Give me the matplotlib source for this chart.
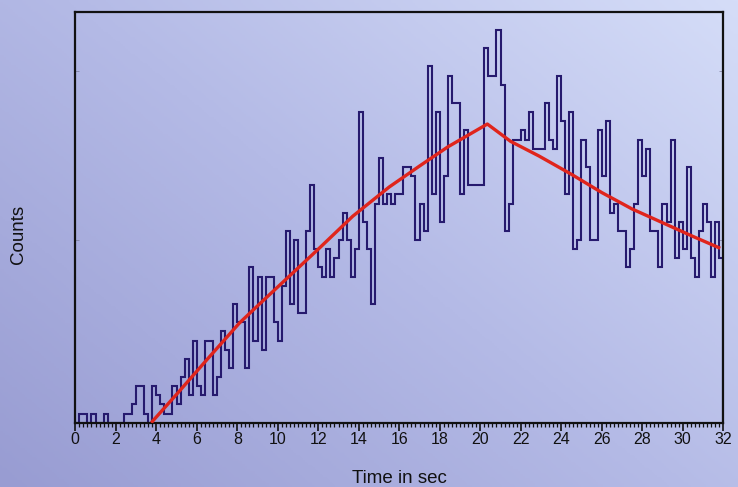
import numpy as np
import matplotlib
matplotlib.use("Agg")
import matplotlib.pyplot as plt
from matplotlib.colors import LinearSegmentedColormap

plt.rcParams['font.family'] = ['Liberation Sans', 'DejaVu Sans']

# light curve, counts per 0.2 s bin, 0..32 s
counts = [0, 1, 1, 0, 1, 0, 0, 1, 0, 0, 0, 0, 1, 1, 2, 4, 4, 1, 0, 4,
          3, 2, 1, 1, 4, 2, 5, 7, 3, 9, 4, 3, 9, 9, 3, 5, 10, 8, 6, 13,
          11, 11, 6, 17, 9, 16, 8, 16, 16, 11, 9, 15, 21, 13, 20, 12, 12, 21, 26, 19,
          17, 16, 19, 16, 18, 20, 23, 20, 16, 19, 34, 22, 19, 13, 24, 29, 24, 25, 24, 25,
          25, 28, 28, 27, 20, 24, 21, 39, 25, 34, 22, 27, 38, 35, 35, 25, 32, 26, 26, 26,
          26, 41, 38, 38, 43, 37, 21, 24, 31, 31, 32, 31, 34, 30, 30, 30, 35, 31, 30, 38,
          33, 25, 34, 19, 20, 31, 28, 20, 20, 32, 27, 33, 23, 24, 21, 21, 17, 19, 24, 31,
          27, 30, 21, 21, 17, 24, 22, 31, 18, 22, 19, 28, 18, 16, 21, 24, 22, 16, 22, 18]
t_start, t_end = 0, 32

# fitted pulse profile
fit_t = [3.75, 5.0, 6.5, 8.1, 9.1, 10.5, 12.0, 13.7, 15.5, 17.0, 18.4, 20.35,
         21.5, 22.9, 24.5, 26.0, 27.5, 29.0, 30.5, 31.85]
fit_c = [0, 3.1, 6.9, 10.9, 13.0, 15.9, 19.0, 22.6, 25.8, 28.1, 30.2, 32.7,
         30.8, 29.2, 27.2, 25.2, 23.4, 21.9, 20.4, 19.1]

x_ticks = list(range(0, 33, 2))

fig = plt.figure(figsize=(7.38, 4.87), dpi=100)

# gradient background over the whole figure
bg = fig.add_axes([0, 0, 1, 1], zorder=-1)
cmap = LinearSegmentedColormap.from_list("bg", ["#989cd2", "#b4bae6", "#d5ddf8"])
xx, yy = np.meshgrid(np.linspace(0, 1, 300), np.linspace(0, 1, 200))
bg.imshow(0.55 * xx + 0.45 * yy, cmap=cmap, origin="lower", aspect="auto",
          extent=[0, 1, 0, 1], vmin=0, vmax=1)
bg.axis("off")

ax = fig.add_axes([0.102, 0.132, 0.878, 0.844])
ax.set_facecolor("none")

edges = np.linspace(t_start, t_end, len(counts) + 1)
ax.stairs(counts, edges, baseline=0, color="#261a6e", lw=1.5, zorder=2)
ax.plot(fit_t, fit_c, color="#e0251c", lw=2.4, zorder=3, solid_capstyle="butt")

ax.set_xlim(t_start, t_end)
ax.set_ylim(0, 45)
ax.set_xticks(x_ticks)
ax.set_xticks(np.arange(t_start, t_end + 0.01, 0.2), minor=True)
ax.set_yticks([20, 38.5])
ax.set_yticklabels([])
ax.tick_params(axis="x", which="major", direction="out", length=6, width=1.2,
               labelsize=11.5, pad=1, colors="#111111")
ax.tick_params(axis="x", which="minor", direction="out", length=3, width=0.9,
               colors="#111111")
ax.tick_params(axis="y", which="major", direction="in", length=3, width=0.5,
               colors="#7a7a9a", left=True, right=True)

for side in ["left", "bottom", "top", "right"]:
    ax.spines[side].set_color("#111111")
    ax.spines[side].set_linewidth(1.6)

ax.set_xlabel("Time in sec", fontsize=13.5, color="#111111")
ax.xaxis.set_label_coords(0.5, -0.115)
ax.set_ylabel("Counts", fontsize=13.5, color="#111111")
ax.yaxis.set_label_coords(-0.074, 0.457)

fig.savefig("out.png", dpi=100)
